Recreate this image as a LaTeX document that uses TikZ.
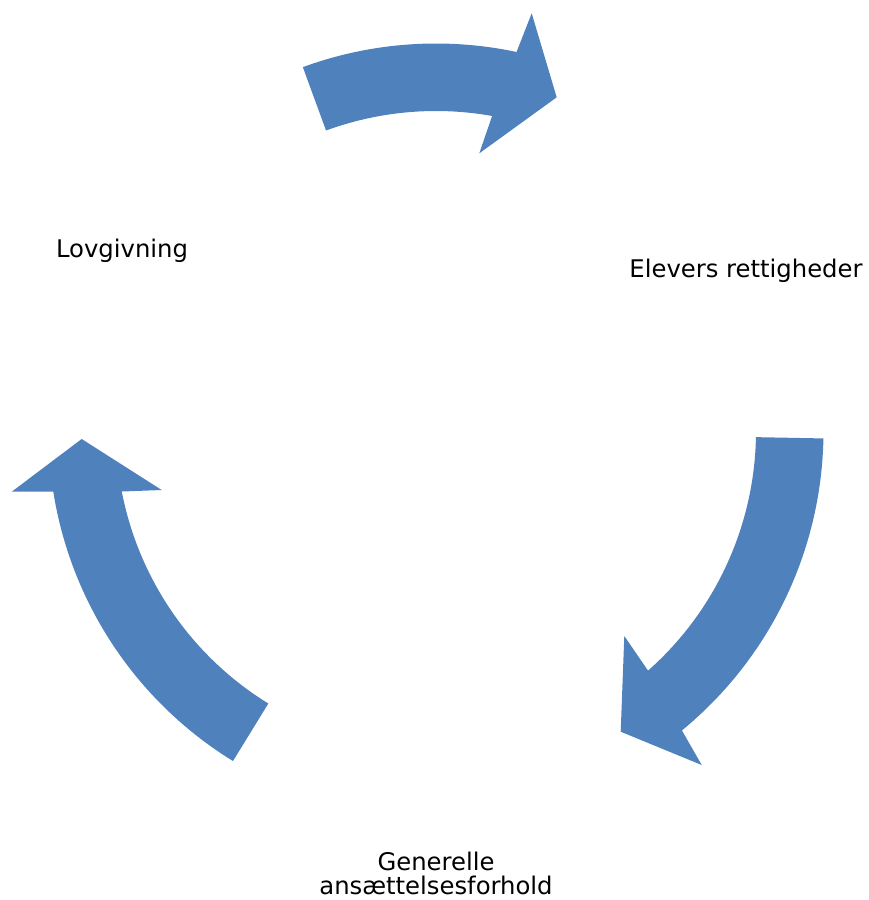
\documentclass[tikz,border=0pt]{standalone}
\usepackage{fontspec}
\setmainfont{DejaVu Sans}
\definecolor{arrowblue}{HTML}{4F81BD}
\begin{document}
\begin{tikzpicture}[x=1pt,y=-1pt,
  cyclearrow/.style={fill=arrowblue, draw=none},
  lbl/.style={font=\fontsize{24.3}{24}\selectfont, inner sep=0pt, anchor=base, align=center, text=black}]
\useasboundingbox (0,0) rectangle (869,900);
% top arrow
\fill[cyclearrow] plot[domain=110.1:78.0, samples=40] ({436+387.5*cos(\x)},{431-387.5*sin(\x)})
  -- (531.7,13.3) -- (556.7,97.3) -- (479.3,153.3)
  -- plot[domain=79.9:110.1, samples=40] ({436+320*cos(\x)},{431-320*sin(\x)}) -- cycle;
% right arrow
\fill[cyclearrow] plot[domain=-1.1:-50.6, samples=50] ({436+387.5*cos(\x)},{431-387.5*sin(\x)})
  -- (701.7,765) -- (620.7,731.7) -- (624.3,636)
  -- plot[domain=-48.5:-1.1, samples=50] ({436+320*cos(\x)},{431-320*sin(\x)}) -- cycle;
% left arrow
\fill[cyclearrow] plot[domain=238.4:189.0, samples=50] ({436+387.5*cos(\x)},{431-387.5*sin(\x)})
  -- (11.7,491.7) -- (81.7,439) -- (161.7,490)
  -- plot[domain=190.9:238.4, samples=50] ({436+320*cos(\x)},{431-320*sin(\x)}) -- cycle;
% labels
\node[lbl] (lov) at (122,257.3) {Lovgivning};
\node[lbl] (elev) at (746,277.3) {Elevers rettigheder};
\node[lbl] (gen) at (436,894.3) {Generelle\\ansættelsesforhold};
\end{tikzpicture}
\end{document}
